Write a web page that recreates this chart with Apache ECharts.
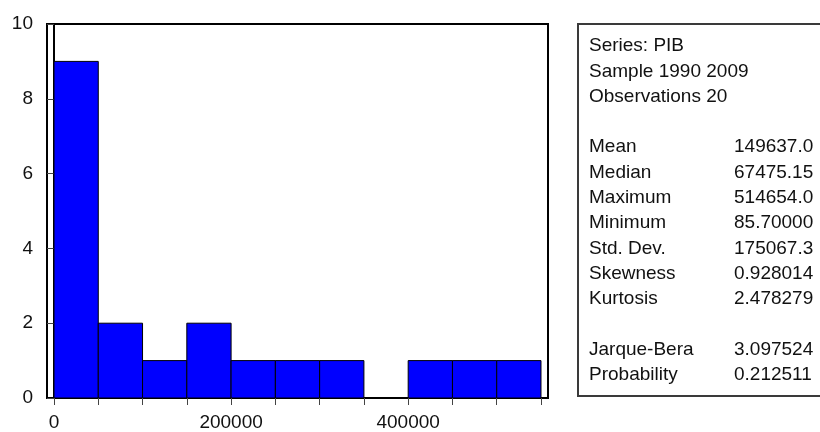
<!DOCTYPE html>
<html>
<head>
<meta charset="utf-8">
<script src="https://cdn.jsdelivr.net/npm/echarts@6/dist/echarts.min.js"></script>
<style>
  html, body { margin: 0; padding: 0; background: #fff; }
  #chart { width: 820px; height: 432px; }
</style>
</head>
<body>
<div id="chart"></div>
<script>
// Histogram of PIB, 1990-2009, bins of width 50000
const binStarts = [0, 50000, 100000, 150000, 200000, 250000, 300000, 350000, 400000, 450000, 500000];
const binEnds   = [50000, 100000, 150000, 200000, 250000, 300000, 350000, 400000, 450000, 500000, 550000];
const counts    = [9, 2, 1, 2, 1, 1, 1, 0, 1, 1, 1];

const xTickValues  = [0, 50000, 100000, 150000, 200000, 250000, 300000, 350000, 400000, 450000, 500000, 550000];
const xLabelValues = [0, 200000, 400000];

// Descriptive statistics panel
const headerLines = ['Series: PIB', 'Sample 1990 2009', 'Observations 20'];
const statNames   = ['Mean', 'Median', 'Maximum', 'Minimum', 'Std. Dev.', 'Skewness', 'Kurtosis'];
const statValues  = ['149637.0', '67475.15', '514654.0', '85.70000', '175067.3', '0.928014', '2.478279'];
const testNames   = ['Jarque-Bera', 'Probability'];
const testValues  = ['3.097524', '0.212511'];

const FONT = '"Liberation Sans", Arial, sans-serif';
const FS = 19;

const barData = binStarts.map((s, i) => [s, binEnds[i], counts[i]]);

// Stats panel rows: header, blank, stats, blank, tests
const rows = [];
headerLines.forEach(t => rows.push([t, '']));
rows.push(['', '']);
statNames.forEach((t, i) => rows.push([t, statValues[i]]));
rows.push(['', '']);
testNames.forEach((t, i) => rows.push([t, testValues[i]]));

const boxLeft = 578, boxTop = 24, boxBottom = 396;
const rowStart = 46, rowStep = 25.3;
const panel = [{
  type: 'rect',
  shape: { x: boxLeft, y: boxTop, width: 300, height: boxBottom - boxTop },
  style: { fill: '#fff', stroke: '#3a3a3a', lineWidth: 2 },
  z: 1
}];
rows.forEach((r, i) => {
  const y = rowStart + i * rowStep;
  if (r[0]) panel.push({ type: 'text', x: 589, y: y, z: 2,
    style: { text: r[0], font: FS + 'px ' + FONT, fill: '#111', verticalAlign: 'middle', align: 'left' } });
  if (r[1]) panel.push({ type: 'text', x: 734, y: y, z: 2,
    style: { text: r[1], font: FS + 'px ' + FONT, fill: '#111', verticalAlign: 'middle', align: 'left' } });
});

const chart = echarts.init(document.getElementById('chart'), null, { renderer: 'canvas' });
chart.setOption({
  animation: false,
  backgroundColor: '#fff',
  grid: {
    left: 47, right: 820 - 548, top: 24, bottom: 432 - 399,
    show: true, borderColor: '#000', borderWidth: 2, backgroundColor: 'transparent'
  },
  xAxis: {
    type: 'value',
    min: -7906, max: 557906,
    splitLine: { show: false },
    axisLine: { show: true, onZero: false, lineStyle: { color: '#000', width: 2 } },
    axisTick: { show: true, length: 7, customValues: xTickValues, lineStyle: { color: '#444', width: 1 } },
    axisLabel: {
      customValues: xLabelValues, margin: 15,
      color: '#111', fontFamily: FONT, fontSize: FS,
      formatter: v => String(v)
    }
  },
  yAxis: {
    type: 'value',
    min: 0, max: 10, interval: 2,
    splitLine: { show: false },
    axisLine: { show: true, lineStyle: { color: '#000', width: 2 } },
    axisTick: { show: true, length: 7, lineStyle: { color: '#444', width: 1 } },
    axisLabel: { margin: 14, color: '#111', fontFamily: FONT, fontSize: FS }
  },
  series: [{
    type: 'custom',
    clip: true,
    data: barData,
    encode: { x: [0, 1], y: 2 },
    renderItem: function (params, api) {
      const h = api.value(2);
      if (!h) return null;
      const p0 = api.coord([api.value(0), h]);
      const p1 = api.coord([api.value(1), 0]);
      return {
        type: 'rect',
        shape: { x: p0[0], y: p0[1], width: p1[0] - p0[0], height: p1[1] - p0[1] },
        style: { fill: '#0000ff', stroke: '#000', lineWidth: 1 }
      };
    }
  }],
  graphic: panel
});
</script>
</body>
</html>
